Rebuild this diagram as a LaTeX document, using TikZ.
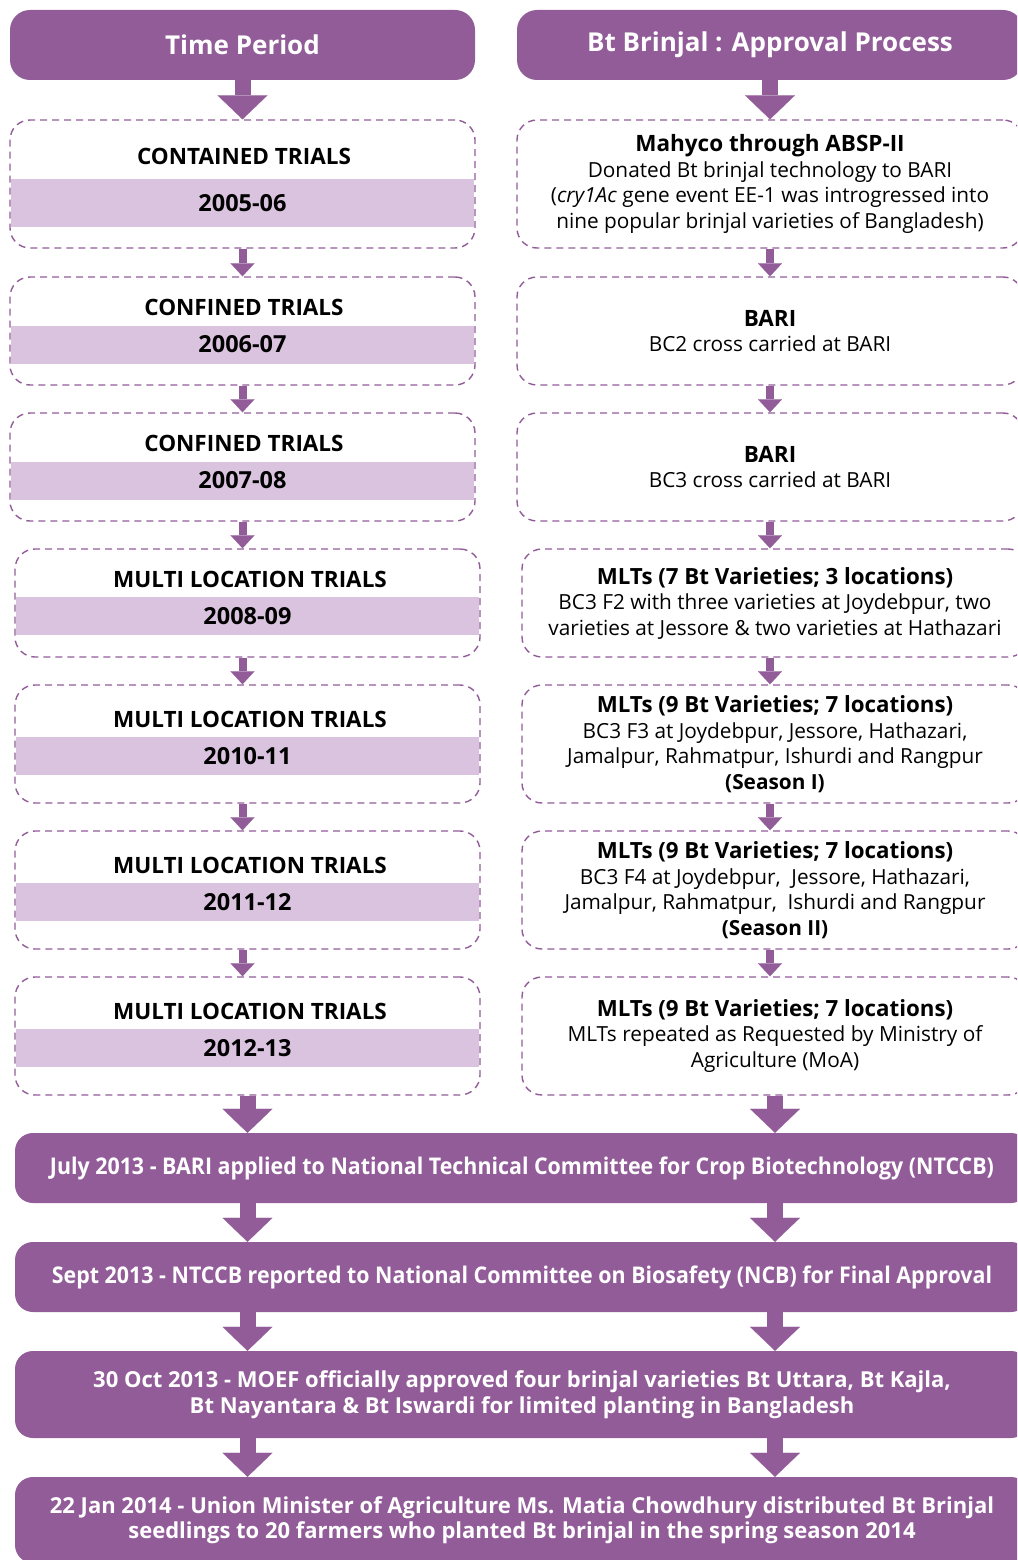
\documentclass[tikz,border=0pt]{standalone}
\usepackage{fontspec}
\setmainfont{Open Sans}
\newfontfamily\condfont[FakeStretch=0.93]{Open Sans}
\usetikzlibrary{arrows.meta}
\definecolor{Plum}{HTML}{925C99}
\definecolor{SoftPlum}{HTML}{DAC3DF}

\begin{document}
\begin{tikzpicture}[
  x=1pt,y=-1pt,
  font=\fontsize{20.8}{25.5}\selectfont,
  header/.style={fill=Plum, text=white, rounded corners=20pt, minimum height=70pt, font=\fontsize{26}{30}\selectfont\bfseries},
  trial/.style={draw=Plum, dash pattern=on 7pt off 5pt, line width=1.4pt, rounded corners=20pt, minimum width=465pt},
  title/.style={font=\fontsize{22.5}{25}\selectfont\bfseries},
  band/.style={fill=SoftPlum, minimum width=463pt, minimum height=38pt, font=\fontsize{23.5}{25}\selectfont\bfseries},
  stage/.style={draw=Plum, dash pattern=on 7pt off 5pt, line width=1.4pt, rounded corners=20pt, minimum width=506pt, align=center},
  decision/.style={fill=Plum, text=white, rounded corners=18pt, align=center, minimum width=1014pt, font=\fontsize{22}{25.5}\selectfont\bfseries},
  bigarr/.style={-{Triangle[length=24pt,width=50pt,line width=0.1pt]}, line width=16pt, draw=Plum},
  smallarr/.style={-{Triangle[length=13pt,width=24pt,line width=0.1pt]}, line width=8pt, draw=Plum}
]
  \path[use as bounding box, clip] (0,0) rectangle (1017,1560);

  % column headers
  \node[header, minimum width=465pt] (hl) at (242.5,45) {Time Period};
  \node[header, minimum width=506pt] (hr) at (770,45) {Bt Brinjal : Approval Process};

  % time period column
  \node[trial, minimum height=128pt] (l1) at (242.5,184) {};
  \node[band, minimum height=48pt] (y1) at (242.5,203) {2005-06};
  \node[title] (t1) at (244,156) {CONTAINED TRIALS};

  \node[trial, minimum height=108pt] (l2) at (242.5,331) {};
  \node[band] (y2) at (242.5,344.5) {2006-07};
  \node[title] (t2) at (244,307) {CONFINED TRIALS};

  \node[trial, minimum height=108pt] (l3) at (242.5,467) {};
  \node[band] (y3) at (242.5,480.5) {2007-08};
  \node[title] (t3) at (244,443) {CONFINED TRIALS};

  \node[trial, minimum height=108pt] (l4) at (247.5,603) {};
  \node[band] (y4) at (247.5,616) {2008-09};
  \node[title] (t4) at (250,579) {MULTI LOCATION TRIALS};

  \node[trial, minimum height=118pt] (l5) at (247.5,744) {};
  \node[band] (y5) at (247.5,756) {2010-11};
  \node[title] (t5) at (250,719) {MULTI LOCATION TRIALS};

  \node[trial, minimum height=118pt] (l6) at (247.5,890) {};
  \node[band] (y6) at (247.5,902) {2011-12};
  \node[title] (t6) at (250,865) {MULTI LOCATION TRIALS};

  \node[trial, minimum height=118pt] (l7) at (247.5,1036) {};
  \node[band] (y7) at (247.5,1048) {2012-13};
  \node[title] (t7) at (250,1011) {MULTI LOCATION TRIALS};

  % approval column
  \node[stage, minimum height=128pt] (r1) at (770,184) {{\fontsize{22.5}{25.5}\selectfont\bfseries Mahyco through ABSP-II}\\Donated Bt brinjal technology to BARI\\(\textit{cry1Ac} gene event EE-1 was introgressed into\\nine popular brinjal varieties of Bangladesh)};
  \node[stage, minimum height=108pt] (r2) at (770,331) {{\fontsize{22.5}{25.5}\selectfont\bfseries BARI}\\BC2 cross carried at BARI};
  \node[stage, minimum height=108pt] (r3) at (770,467) {{\fontsize{22.5}{25.5}\selectfont\bfseries BARI}\\BC3 cross carried at BARI};
  \node[stage, minimum height=108pt] (r4) at (775,603) {{\fontsize{22.3}{25.5}\selectfont\bfseries MLTs (7 Bt Varieties; 3 locations)}\\BC3 F2 with three varieties at Joydebpur, two\\varieties at Jessore \& two varieties at Hathazari};
  \node[stage, minimum height=118pt] (r5) at (775,744) {{\fontsize{22.3}{25.5}\selectfont\bfseries MLTs (9 Bt Varieties; 7 locations)}\\BC3 F3 at Joydebpur, Jessore, Hathazari,\\Jamalpur, Rahmatpur, Ishurdi and Rangpur\\\textbf{(Season I)}};
  \node[stage, minimum height=118pt] (r6) at (775,890) {{\fontsize{22.3}{25.5}\selectfont\bfseries MLTs (9 Bt Varieties; 7 locations)}\\BC3 F4 at Joydebpur,\ \ Jessore, Hathazari,\\Jamalpur, Rahmatpur,\ \ Ishurdi and Rangpur\\\textbf{(Season II)}};
  \node[stage, minimum height=118pt] (r7) at (775,1036) {{\fontsize{22.3}{25.5}\selectfont\bfseries MLTs (9 Bt Varieties; 7 locations)}\\MLTs repeated as Requested by Ministry of\\Agriculture (MoA)};

  % decisions
  \node[decision, minimum height=70pt] (b1) at (522,1168) {\condfont\fontsize{23}{25.5}\selectfont\bfseries July 2013 - BARI applied to National Technical Committee for Crop Biotechnology (NTCCB)};
  \node[decision, minimum height=70pt] (b2) at (522,1277) {\condfont\fontsize{23}{25.5}\selectfont\bfseries Sept 2013 - NTCCB reported to National Committee on Biosafety (NCB) for Final Approval};
  \node[decision, minimum height=87pt] (b3) at (522,1394.5) {30 Oct 2013 - MOEF officially approved four brinjal varieties Bt Uttara, Bt Kajla,\\Bt Nayantara \& Bt Iswardi for limited planting in Bangladesh};
  \node[decision, minimum height=86pt] (b4) at (522,1520) {22 Jan 2014 - Union Minister of Agriculture Ms. Matia Chowdhury distributed Bt Brinjal\\seedlings to 20 farmers who planted Bt brinjal in the spring season 2014};

  % arrows
  \draw[bigarr] (hl.south) -- (l1.north);
  \draw[bigarr] (hr.south) -- (r1.north);
  \draw[smallarr] (l1.south) -- (l2.north);
  \draw[smallarr] (l2.south) -- (l3.north);
  \draw[smallarr] (l3.south) -- (l3.south |- l4.north);
  \draw[smallarr] (l4.south -| l3.south) -- (l5.north -| l3.south);
  \draw[smallarr] (l5.south -| l3.south) -- (l6.north -| l3.south);
  \draw[smallarr] (l6.south -| l3.south) -- (l7.north -| l3.south);
  \draw[smallarr] (r1.south) -- (r2.north);
  \draw[smallarr] (r2.south) -- (r3.north);
  \draw[smallarr] (r3.south) -- (r3.south |- r4.north);
  \draw[smallarr] (r4.south -| r3.south) -- (r5.north -| r3.south);
  \draw[smallarr] (r5.south -| r3.south) -- (r6.north -| r3.south);
  \draw[smallarr] (r6.south -| r3.south) -- (r7.north -| r3.south);
  \draw[bigarr] (l7.south) -- (l7.south |- b1.north);
  \draw[bigarr] (r7.south) -- (r7.south |- b1.north);
  \draw[bigarr] (b1.south -| l7.south) -- (b2.north -| l7.south);
  \draw[bigarr] (b1.south -| r7.south) -- (b2.north -| r7.south);
  \draw[bigarr] (b2.south -| l7.south) -- (b3.north -| l7.south);
  \draw[bigarr] (b2.south -| r7.south) -- (b3.north -| r7.south);
  \draw[bigarr] (b3.south -| l7.south) -- (b4.north -| l7.south);
  \draw[bigarr] (b3.south -| r7.south) -- (b4.north -| r7.south);
\end{tikzpicture}
\end{document}
